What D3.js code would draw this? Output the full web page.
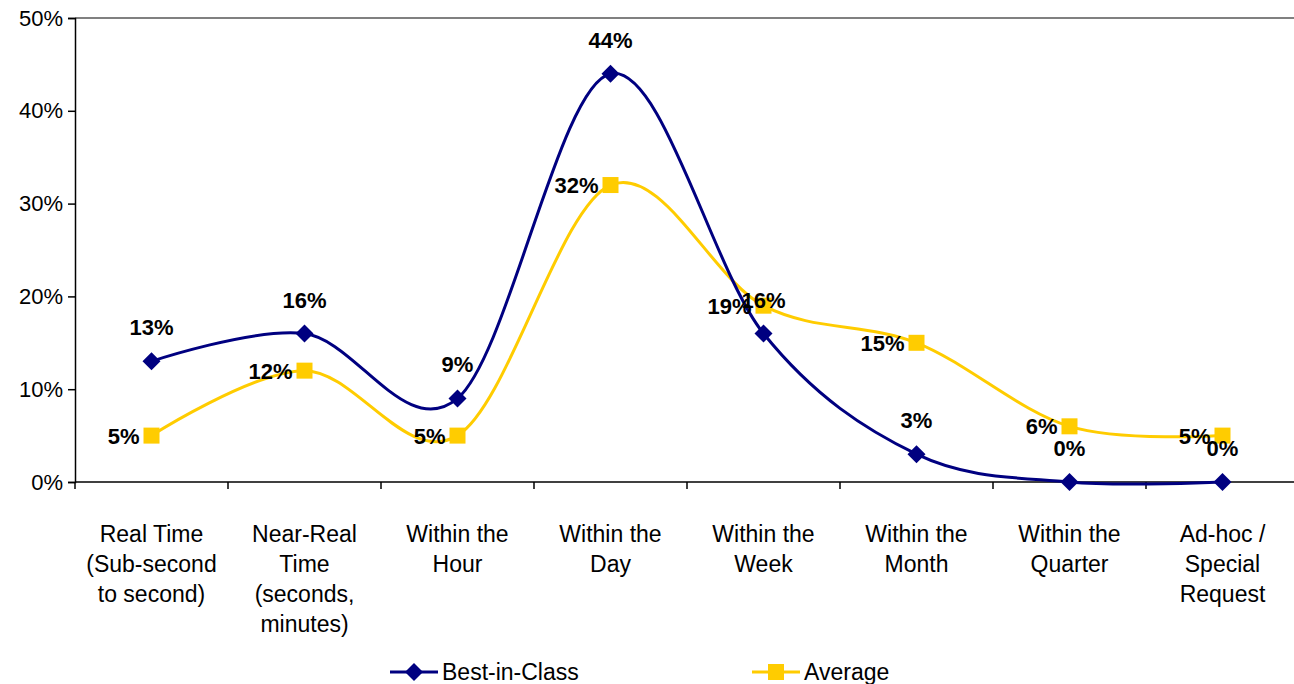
<!DOCTYPE html>
<html>
<head>
<meta charset="utf-8">
<script src="https://cdn.jsdelivr.net/npm/d3@7"></script>
<style>
  html, body { margin: 0; padding: 0; background: #fff; }
  svg { display: block; font-family: "Liberation Sans", Arial, sans-serif; }
</style>
</head>
<body>
<svg id="chart" width="1294" height="684"></svg>
<script>
// Reporting frequency categories (multi-line labels)
const categories = [
  ["Real Time", "(Sub-second", "to second)"],
  ["Near-Real", "Time", "(seconds,", "minutes)"],
  ["Within the", "Hour"],
  ["Within the", "Day"],
  ["Within the", "Week"],
  ["Within the", "Month"],
  ["Within the", "Quarter"],
  ["Ad-hoc /", "Special", "Request"]
];
const bestInClass = [13, 16, 9, 44, 16, 3, 0, 0];
const average = [5, 12, 5, 32, 19, 15, 6, 5];
const yTicks = [0, 10, 20, 30, 40, 50];
const seriesNames = ["Best-in-Class", "Average"];

const svg = d3.select("#chart");
const plotLeft = 75, plotRight = 1299, plotTop = 18, plotBottom = 482;

const x = d3.scaleBand().domain(d3.range(categories.length)).range([plotLeft, plotRight]);
const y = d3.scaleLinear().domain([0, 50]).range([plotBottom, plotTop]);
const cx = i => x(i) + x.bandwidth() / 2;

const navy = "#000080", gold = "#FFCC00";

// top gridline at 50%
svg.append("line")
  .attr("x1", plotLeft).attr("x2", 1294)
  .attr("y1", y(50)).attr("y2", y(50))
  .attr("stroke", "#808080").attr("stroke-width", 2);

// y axis
const yAxis = d3.axisLeft(y).tickValues(yTicks).tickFormat(d => d + "%").tickSize(7).tickPadding(5);
const gy = svg.append("g").attr("transform", `translate(${plotLeft},0)`).call(yAxis);
gy.select(".domain").attr("stroke", "#000").attr("stroke-width", 1.5);
gy.selectAll(".tick line").attr("stroke", "#000").attr("stroke-width", 1.5);
gy.selectAll(".tick text").attr("font-size", 22).attr("fill", "#000")
  .attr("font-family", "Liberation Sans, Arial, sans-serif");

// x axis with ticks at category boundaries
svg.append("line")
  .attr("x1", plotLeft).attr("x2", 1294)
  .attr("y1", plotBottom).attr("y2", plotBottom)
  .attr("stroke", "#000").attr("stroke-width", 1.5);
d3.range(categories.length + 1).forEach(i => {
  const bx = plotLeft + i * x.step();
  svg.append("line")
    .attr("x1", bx).attr("x2", bx)
    .attr("y1", plotBottom).attr("y2", plotBottom + 7)
    .attr("stroke", "#000").attr("stroke-width", 1.5);
});

// category labels
categories.forEach((lines, i) => {
  const t = svg.append("text")
    .attr("text-anchor", "middle")
    .attr("font-size", 23).attr("fill", "#000");
  lines.forEach((ln, k) => {
    t.append("tspan").attr("x", cx(i)).attr("y", 542 + k * 30).text(ln);
  });
});

// smoothed lines
const line = d3.line()
  .x((d, i) => cx(i))
  .y(d => y(d))
  .curve(d3.curveCatmullRom.alpha(0));

svg.append("path").datum(average)
  .attr("d", line).attr("fill", "none")
  .attr("stroke", gold).attr("stroke-width", 3);
svg.append("path").datum(bestInClass)
  .attr("d", line).attr("fill", "none")
  .attr("stroke", navy).attr("stroke-width", 3);

// markers
const diamond = (px, py, r) => `M${px},${py - r}L${px + r},${py}L${px},${py + r}L${px - r},${py}Z`;

svg.selectAll(".sq").data(average).enter().append("rect")
  .attr("x", (d, i) => cx(i) - 8).attr("y", d => y(d) - 8)
  .attr("width", 16).attr("height", 16).attr("fill", gold);

svg.selectAll(".dm").data(bestInClass).enter().append("path")
  .attr("d", (d, i) => diamond(cx(i), y(d), 9)).attr("fill", navy);

// value labels: Best-in-Class above, Average to the left
svg.selectAll(".lb").data(bestInClass).enter().append("text")
  .attr("x", (d, i) => cx(i)).attr("y", d => y(d) - 26)
  .attr("text-anchor", "middle").attr("font-size", 22).attr("font-weight", "bold")
  .attr("fill", "#000").text(d => d + "%");

svg.selectAll(".la").data(average).enter().append("text")
  .attr("x", (d, i) => cx(i) - 12).attr("y", d => y(d) + 8)
  .attr("text-anchor", "end").attr("font-size", 22).attr("font-weight", "bold")
  .attr("fill", "#000").text(d => d + "%");

// legend
const legend = [
  { name: seriesNames[0], color: navy, x: 390, marker: "diamond" },
  { name: seriesNames[1], color: gold, x: 752, marker: "square" }
];
legend.forEach(l => {
  const ly = 672;
  svg.append("line").attr("x1", l.x).attr("x2", l.x + 48)
    .attr("y1", ly).attr("y2", ly).attr("stroke", l.color).attr("stroke-width", 3);
  if (l.marker === "diamond") {
    svg.append("path").attr("d", diamond(l.x + 24, ly, 9)).attr("fill", l.color);
  } else {
    svg.append("rect").attr("x", l.x + 16).attr("y", ly - 8)
      .attr("width", 16).attr("height", 16).attr("fill", l.color);
  }
  svg.append("text").attr("x", l.x + 52).attr("y", ly + 8)
    .attr("font-size", 23).attr("fill", "#000").text(l.name);
});
</script>
</body>
</html>
